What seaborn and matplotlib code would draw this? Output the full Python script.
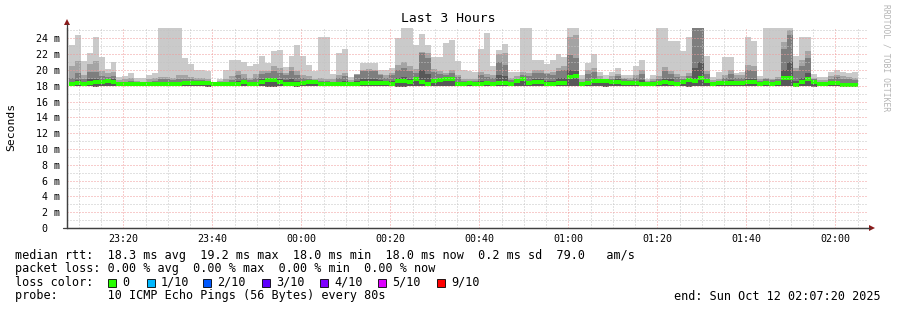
import numpy as np
import pandas as pd
import matplotlib
matplotlib.use("Agg")
import matplotlib.pyplot as plt
import seaborn as sns
from matplotlib.patches import Rectangle, Polygon
from matplotlib.lines import Line2D

# ---------------- data (ms) ----------------
rtt_max = [23.2, 24.4, 21.1, 22.1, 24.2, 21.6, 20.1, 21.0, 19.1, 19.2,
           19.6, 19.0, 19.0, 19.3, 19.6, 26.0, 26.0, 26.0, 26.0, 21.5,
           20.7, 20.0, 20.0, 19.8, 18.4, 18.8, 20.0, 21.3, 21.3, 21.0,
           20.5, 20.8, 21.7, 20.9, 22.4, 22.5, 20.4, 21.7, 23.2, 21.7,
           20.6, 19.9, 24.1, 24.2, 19.5, 22.1, 22.6, 19.1, 19.5, 20.9,
           20.9, 20.9, 20.0, 20.0, 20.3, 24.0, 26.0, 26.0, 23.1, 24.6,
           23.1, 21.6, 21.6, 23.4, 23.8, 21.1, 20.0, 19.8, 19.7, 22.6,
           24.7, 20.5, 22.5, 23.3, 19.7, 19.7, 26.0, 26.0, 21.2, 21.2,
           20.7, 21.2, 22.0, 21.6, 26.0, 26.0, 19.3, 20.9, 22.0, 19.7,
           19.3, 19.7, 20.2, 19.4, 19.4, 20.5, 21.2, 18.8, 19.3, 26.0,
           26.0, 23.7, 23.7, 22.4, 24.2, 26.0, 26.0, 21.8, 19.1, 19.7,
           21.6, 21.6, 19.6, 19.7, 24.1, 23.7, 19.2, 26.0, 26.0, 26.0,
           26.0, 26.0, 21.8, 24.1, 24.1, 19.5, 19.1, 19.1, 19.7, 20.0,
           19.7, 19.6, 19.7]

rtt_p9 = [20.5, 21.1, 19.4, 20.7, 21.1, 19.9, 19.6, 19.7, 18.7, 18.8,
          19.0, 18.6, 18.5, 18.8, 19.0, 19.1, 19.1, 19.0, 19.3, 19.3,
          19.1, 19.0, 19.0, 18.8, 18.3, 18.6, 18.8, 19.2, 19.9, 19.5,
          19.0, 19.5, 19.9, 19.8, 20.5, 20.3, 19.6, 20.4, 19.9, 19.3,
          19.2, 18.9, 19.0, 18.9, 18.8, 19.4, 19.6, 18.7, 19.5, 20.0,
          20.1, 20.0, 19.5, 19.3, 19.6, 20.6, 21.0, 20.5, 20.1, 22.3,
          22.1, 20.1, 19.8, 19.6, 20.0, 19.4, 18.9, 18.8, 18.9, 19.7,
          19.5, 19.3, 22.0, 22.2, 19.0, 19.2, 19.7, 19.6, 20.0, 20.0,
          19.6, 19.7, 20.3, 20.5, 24.2, 24.4, 18.8, 20.0, 20.2, 19.2,
          18.9, 19.2, 19.5, 19.0, 19.0, 19.4, 20.0, 18.6, 18.9, 19.2,
          20.4, 19.9, 19.5, 19.2, 19.6, 26.0, 26.0, 19.9, 18.7, 18.9,
          19.4, 20.0, 19.3, 19.3, 20.6, 20.5, 18.8, 19.0, 18.9, 19.1,
          23.5, 25.0, 20.3, 21.3, 22.4, 19.0, 18.7, 18.7, 19.2, 19.4,
          19.2, 19.1, 19.0]

rtt_p8 = [19.0, 19.6, 18.9, 19.7, 19.7, 19.2, 19.1, 19.2, 18.5, 18.5,
          18.6, 18.4, 18.4, 18.5, 18.6, 18.8, 18.8, 18.7, 18.9, 18.9,
          18.8, 18.7, 18.7, 18.6, 18.25, 18.4, 18.5, 18.7, 19.3, 19.0,
          18.7, 19.0, 19.5, 19.6, 19.8, 19.6, 19.3, 19.8, 19.4, 19.0,
          18.9, 18.7, 18.6, 18.6, 18.5, 19.0, 19.2, 18.5, 19.3, 19.8,
          19.9, 19.8, 19.3, 19.0, 19.3, 20.0, 20.2, 19.9, 19.6, 22.1,
          21.5, 19.7, 19.5, 19.3, 19.6, 19.1, 18.6, 18.6, 18.6, 19.3,
          19.1, 19.0, 21.0, 20.6, 18.7, 18.9, 19.3, 19.2, 19.6, 19.6,
          19.5, 19.4, 19.8, 20.0, 21.9, 21.5, 18.5, 19.5, 19.7, 18.9,
          18.7, 18.9, 19.2, 18.8, 18.7, 19.0, 19.5, 18.4, 18.6, 18.9,
          19.8, 19.5, 19.1, 18.9, 19.2, 26.0, 26.0, 19.5, 18.5, 18.6,
          19.0, 19.5, 19.0, 19.0, 20.0, 19.9, 18.6, 18.8, 18.7, 18.9,
          22.7, 24.4, 19.8, 20.5, 21.5, 18.8, 18.5, 18.5, 18.9, 19.1,
          18.9, 18.8, 18.7]

rtt_p7 = [18.5, 18.7, 18.5, 18.8, 18.8, 18.7, 18.8, 18.8, 18.3, 18.3,
          18.3, 18.3, 18.3, 18.3, 18.3, 18.4, 18.4, 18.4, 18.4, 18.5,
          18.5, 18.5, 18.5, 18.5, 18.2, 18.3, 18.3, 18.3, 18.6, 18.6,
          18.4, 18.5, 18.8, 19.0, 19.0, 18.8, 18.7, 18.9, 18.6, 18.5,
          18.6, 18.6, 18.3, 18.3, 18.3, 18.5, 18.6, 18.3, 18.6, 18.9,
          18.9, 18.8, 18.7, 18.6, 18.6, 19.0, 19.1, 18.9, 19.1, 20.0,
          19.5, 18.9, 18.9, 19.1, 19.1, 18.5, 18.3, 18.4, 18.4, 18.6,
          18.5, 18.4, 19.3, 19.2, 18.4, 18.8, 19.0, 18.6, 18.8, 18.8,
          18.6, 18.6, 19.0, 19.0, 20.0, 19.8, 18.3, 18.6, 18.8, 18.7,
          18.7, 18.7, 18.8, 18.6, 18.6, 18.6, 18.7, 18.3, 18.3, 18.6,
          18.8, 18.8, 18.5, 18.7, 18.9, 20.3, 21.0, 18.8, 18.3, 18.5,
          18.6, 18.7, 18.5, 18.5, 18.8, 18.8, 18.4, 18.5, 18.4, 18.6,
          20.0, 21.0, 18.6, 19.0, 19.6, 18.6, 18.3, 18.3, 18.5, 18.6,
          18.3, 18.3, 18.3]

rtt_median = [18.27, 18.40, 18.27, 18.40, 18.48, 18.48, 18.61, 18.52, 18.19, 18.19,
              18.19, 18.19, 18.19, 18.19, 18.19, 18.19, 18.19, 18.19, 18.19, 18.36,
              18.40, 18.40, 18.36, 18.36, 18.19, 18.19, 18.19, 18.19, 18.19, 18.44,
              18.27, 18.27, 18.48, 18.69, 18.69, 18.44, 18.27, 18.27, 18.27, 18.40,
              18.48, 18.48, 18.19, 18.19, 18.19, 18.27, 18.27, 18.19, 18.27, 18.40,
              18.40, 18.40, 18.40, 18.40, 18.27, 18.57, 18.57, 18.44, 18.82, 18.48,
              18.27, 18.57, 18.69, 18.90, 18.90, 18.27, 18.19, 18.36, 18.27, 18.27,
              18.36, 18.27, 18.40, 18.40, 18.27, 18.61, 18.82, 18.40, 18.48, 18.48,
              18.27, 18.27, 18.40, 18.40, 19.11, 19.20, 18.19, 18.36, 18.57, 18.57,
              18.57, 18.48, 18.48, 18.40, 18.40, 18.40, 18.27, 18.19, 18.19, 18.40,
              18.48, 18.40, 18.27, 18.52, 18.69, 18.57, 18.94, 18.57, 18.27, 18.36,
              18.36, 18.36, 18.36, 18.36, 18.44, 18.44, 18.27, 18.36, 18.27, 18.40,
              19.03, 19.03, 18.15, 18.48, 18.82, 18.48, 18.19, 18.19, 18.36, 18.36,
              18.15, 18.15, 18.15]

rtt_min = [17.95, 17.92, 17.95, 17.90, 17.85, 17.90, 17.92, 17.95, 17.97, 17.97,
           17.97, 17.97, 17.97, 17.97, 17.96, 17.95, 17.95, 17.95, 17.96, 17.92,
           17.92, 17.95, 17.90, 17.85, 17.97, 17.96, 17.96, 17.95, 17.93, 17.92,
           17.95, 17.93, 17.90, 17.88, 17.88, 17.92, 17.90, 17.93, 17.85, 17.92,
           17.90, 17.92, 17.95, 17.95, 17.96, 17.92, 17.95, 17.97, 17.95, 17.92,
           17.92, 17.93, 17.90, 17.92, 17.95, 17.85, 17.88, 17.90, 17.92, 17.90,
           17.95, 17.90, 17.92, 17.90, 17.92, 17.95, 17.97, 17.95, 17.96, 17.95,
           17.93, 17.95, 17.90, 17.92, 17.96, 17.92, 17.90, 17.93, 17.92, 17.92,
           17.95, 17.95, 17.92, 17.90, 17.90, 17.92, 17.97, 17.94, 17.90, 17.90,
           17.88, 17.92, 17.92, 17.93, 17.93, 17.92, 17.95, 17.97, 17.96, 17.93,
           17.92, 17.93, 17.95, 17.92, 17.88, 17.90, 17.92, 17.90, 17.95, 17.94,
           17.94, 17.94, 17.94, 17.94, 17.92, 17.92, 17.95, 17.94, 17.95, 17.93,
           17.90, 17.90, 17.97, 17.92, 17.90, 17.85, 17.97, 17.97, 17.94, 17.94,
           17.97, 17.97, 17.97]

x_tick_labels = ["23:20", "23:40", "00:00", "00:20", "00:40",
                 "01:00", "01:20", "01:40", "02:00"]
y_tick_labels = ["0  ", "2 m", "4 m", "6 m", "8 m", "10 m", "12 m",
                 "14 m", "16 m", "18 m", "20 m", "22 m", "24 m"]
loss_labels = ["0", "1/10", "2/10", "3/10", "4/10", "5/10", "9/10"]
loss_colors = ["#26ff00", "#00b8ff", "#0059ff", "#5e00ff", "#7e00ff",
               "#dd00ff", "#ff0000"]

# ---------------- time axis (minutes since 23:07:20) ----------------
step_min = 80 / 60
first_step = 0.45
n = len(rtt_median)
t = first_step + step_min * np.arange(n)
t_ext = np.append(t, t[-1] + step_min)


def ext(a):
    a = np.asarray(a, dtype=float)
    return np.append(a, a[-1])


# ---------------- figure ----------------
sns.set_theme(style="white")
plt.rcParams['font.family'] = ['DejaVu Sans Mono', 'DejaVu Sans']
W, H = 897, 310
fig = plt.figure(figsize=(W / 100, H / 100), dpi=100)
fig.patch.set_facecolor("white")


def fx(x):
    return x / W


def fy(y):
    return 1 - y / H


ax = fig.add_axes([fx(67), fy(228), (868 - 67) / W, 200 / H])
ax.set_facecolor("white")

# smoke layers
ax.fill_between(t_ext, ext(rtt_min), ext(rtt_max), step="post", color="#cacaca", lw=0, zorder=1)
ax.fill_between(t_ext, ext(rtt_min), ext(rtt_p9), step="post", color="#a4a4a4", lw=0, zorder=1.1)
ax.fill_between(t_ext, ext(rtt_min), ext(rtt_p8), step="post", color="#7e7e7e", lw=0, zorder=1.2)
ax.fill_between(t_ext, ext(rtt_min), ext(rtt_p7), step="post", color="#585858", lw=0, zorder=1.3)

# median (loss colour green): one horizontal segment per 80 s step
df_med = pd.DataFrame({
    "t": np.concatenate([t, t + step_min]),
    "median": np.concatenate([rtt_median, rtt_median]),
    "step": np.concatenate([np.arange(n), np.arange(n)]),
})
sns.lineplot(data=df_med, x="t", y="median", units="step", estimator=None,
             ax=ax, color="#26ff00", linewidth=2.9, zorder=2,
             solid_capstyle="butt")

ax.set_xlim(0, 180)
ax.set_ylim(0, 25.3)
ax.set_xlabel("")
ax.set_ylabel("")

major_x = 12 + 2 / 3 + 20 * np.arange(len(x_tick_labels))
minor_x = np.arange(2 + 2 / 3, 180, 5)
ax.set_xticks(major_x)
ax.set_xticklabels(x_tick_labels)
ax.set_xticks(minor_x, minor=True)
ax.set_yticks(np.arange(0, 25, 2))
ax.set_yticklabels(y_tick_labels)
ax.set_yticks(np.arange(1, 26, 2), minor=True)

ax.tick_params(axis="both", which="both", length=0, labelsize=7.2, colors="black")
ax.tick_params(axis="x", pad=4)
ax.tick_params(axis="y", pad=5)

ax.grid(which="minor", color="#c4c4c4", linestyle=(0, (1, 2)), linewidth=0.72)
ax.grid(which="major", color="#f09a9a", linestyle=(0, (1, 2)), linewidth=0.72)
ax.set_axisbelow(False)

for s in ["top", "right"]:
    ax.spines[s].set_visible(False)
for s in ["left", "bottom"]:
    ax.spines[s].set_color("#404040")
    ax.spines[s].set_linewidth(0.9)

# axis extensions + arrows
fig.add_artist(Line2D([fx(67), fx(67)], [fy(228), fy(24)], color="#404040", lw=0.9))
fig.add_artist(Line2D([fx(63), fx(870)], [fy(228), fy(228)], color="#404040", lw=0.9))
fig.add_artist(Polygon([(fx(64), fy(25)), (fx(70), fy(25)), (fx(67), fy(19))],
                       closed=True, transform=fig.transFigure,
                       facecolor="#8b1a1a", edgecolor="none"))
fig.add_artist(Polygon([(fx(869), fy(225)), (fx(869), fy(231)), (fx(875), fy(228))],
                       closed=True, transform=fig.transFigure,
                       facecolor="#8b1a1a", edgecolor="none"))

# texts
fig.text(fx(448), fy(19), "Last 3 Hours", ha="center", va="center", fontsize=9.4, color="black")
fig.text(fx(11), fy(127), "Seconds", ha="center", va="center", rotation=90, fontsize=8.2, color="black")
fig.text(fx(886), fy(4), "RRDTOOL / TOBI OETIKER", ha="center", va="top", rotation=270,
         fontsize=5.8, color="#b4b4b4")

lg = 8.5
fig.text(fx(15), fy(255), "median rtt:  18.3 ms avg  19.2 ms max  18.0 ms min  18.0 ms now  0.2 ms sd  79.0   am/s",
         ha="left", va="center", fontsize=lg, color="black")
fig.text(fx(15), fy(268.5), "packet loss: 0.00 % avg  0.00 % max  0.00 % min  0.00 % now",
         ha="left", va="center", fontsize=lg, color="black")
fig.text(fx(15), fy(282.3), "loss color:", ha="left", va="center", fontsize=lg, color="black")
box_x = [108, 147, 203, 262, 320, 378, 437]
for bx, lab, col in zip(box_x, loss_labels, loss_colors):
    fig.add_artist(Rectangle((fx(bx), fy(286.5)), 8 / W, 8 / H, transform=fig.transFigure,
                             facecolor=col, edgecolor="black", lw=0.6))
    fig.text(fx(bx + 14), fy(282.3), lab, ha="left", va="center", fontsize=lg, color="black")
fig.text(fx(15), fy(296), "probe:       10 ICMP Echo Pings (56 Bytes) every 80s",
         ha="left", va="center", fontsize=lg, color="black")
fig.text(fx(881), fy(296), "end: Sun Oct 12 02:07:20 2025", ha="right", va="center",
         fontsize=lg, color="black")

fig.savefig("out.png", dpi=100, facecolor="white")
